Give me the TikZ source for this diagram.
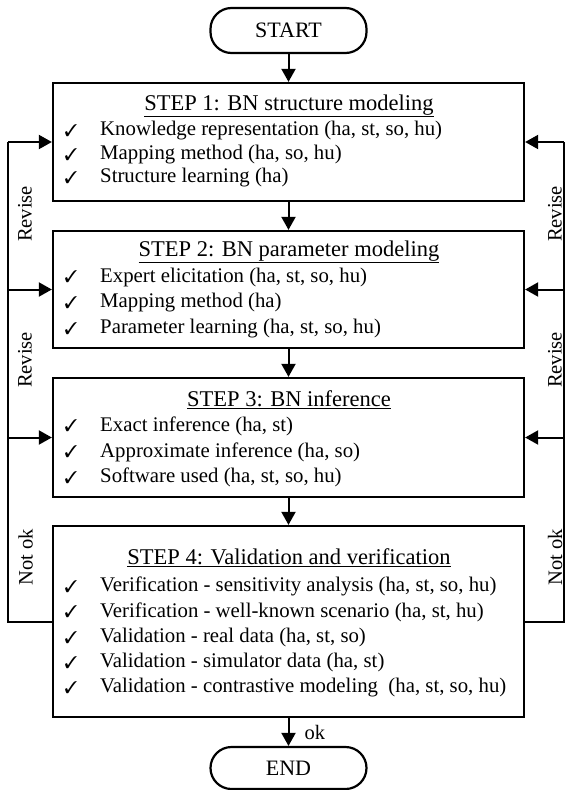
\documentclass[tikz,border=0pt]{standalone}
\usepackage{fontspec}
\setmainfont{Liberation Serif}
\usepackage{pifont}
\usetikzlibrary{arrows.meta}
\tikzset{
  stepbox/.style={draw, line width=2.3pt, inner sep=0pt, minimum width=471pt},
  pill/.style={draw, line width=2.2pt, inner sep=0pt, minimum width=156pt, rounded corners=21pt, font=\fontsize{22}{26}\selectfont},
  ttl/.style={anchor=center, inner sep=0pt, font=\fontsize{22.5}{27}\selectfont},
  itm/.style={anchor=west, inner sep=0pt, font=\fontsize{20.8}{24}\selectfont},
  chk/.style={anchor=center, inner sep=0pt, font=\fontsize{17}{20}\selectfont},
  lbl/.style={inner sep=0pt, rotate=90, font=\fontsize{20.5}{24}\selectfont},
  conn/.style={line width=2pt},
  arr/.style={line width=2pt, -{Triangle[length=13pt,width=14pt]}}
}
\begin{document}
\begin{tikzpicture}[x=1pt,y=-1pt]
\useasboundingbox (0,0) rectangle (565,790);
% terminals
\node[pill, minimum height=45pt] (start) at (288.5,30.5) {START};
\node[pill, minimum height=42pt] (end) at (288.5,768) {END};
% step boxes
\node[stepbox, minimum height=118pt] (b1) at (288.5,142) {};
\node[stepbox, minimum height=117pt] (b2) at (288.5,289.5) {};
\node[stepbox, minimum height=119pt] (b3) at (288.5,437.5) {};
\node[stepbox, minimum height=191pt] (b4) at (288.5,621.5) {};
% step 1
\node[ttl] (t1) at (289,106) {\underline{STEP 1: BN structure modeling}};
\node[chk] (c11) at (71,131) {\ding{51}};
\node[itm] (i11) at (100,131) {Knowledge representation (ha, st, so, hu)};
\node[chk] (c12) at (71,154.5) {\ding{51}};
\node[itm] (i12) at (100,154.5) {Mapping method (ha, so, hu)};
\node[chk] (c13) at (71,178) {\ding{51}};
\node[itm] (i13) at (100,178) {Structure learning (ha)};
% step 2
\node[ttl] (t2) at (289,252) {\underline{STEP 2: BN parameter modeling}};
\node[chk] (c21) at (71,277) {\ding{51}};
\node[itm] (i21) at (100,277) {Expert elicitation (ha, st, so, hu)};
\node[chk] (c22) at (71,303) {\ding{51}};
\node[itm] (i22) at (100,303) {Mapping method (ha)};
\node[chk] (c23) at (71,329) {\ding{51}};
\node[itm] (i23) at (100,329) {Parameter learning (ha, st, so, hu)};
% step 3
\node[ttl] (t3) at (289,400) {\underline{STEP 3: BN inference}};
\node[chk] (c31) at (71,426) {\ding{51}};
\node[itm] (i31) at (100,426) {Exact inference (ha, st)};
\node[chk] (c32) at (71,452) {\ding{51}};
\node[itm] (i32) at (100,452) {Approximate inference (ha, so)};
\node[chk] (c33) at (71,477.5) {\ding{51}};
\node[itm] (i33) at (100,477.5) {Software used (ha, st, so, hu)};
% step 4
\node[ttl] (t4) at (289,558) {\underline{STEP 4: Validation and verification}};
\node[chk] (c41) at (71,586.5) {\ding{51}};
\node[itm] (i41) at (100,586.5) {Verification - sensitivity analysis (ha, st, so, hu)};
\node[chk] (c42) at (71,612) {\ding{51}};
\node[itm] (i42) at (100,612) {Verification - well-known scenario (ha, st, hu)};
\node[chk] (c43) at (71,637.5) {\ding{51}};
\node[itm] (i43) at (100,637.5) {Validation - real data (ha, st, so)};
\node[chk] (c44) at (71,662.5) {\ding{51}};
\node[itm] (i44) at (100,662.5) {Validation - simulator data (ha, st)};
\node[chk] (c45) at (71,688) {\ding{51}};
\node[itm] (i45) at (100,688) {Validation - contrastive modeling\ \ (ha, st, so, hu)};
% main flow
\draw[arr] (start) -- (b1);
\draw[arr] (b1) -- (b2);
\draw[arr] (b2) -- (b3);
\draw[arr] (b3) -- (b4);
\draw[arr] (b4) -- node[right=15pt, inner sep=0pt, font=\fontsize{20.5}{24}\selectfont] (ok) {ok} (end);
% feedback loops
\coordinate (L4) at (8,621.5);
\coordinate (L1) at (8,142);
\coordinate (L2) at (8,289.5);
\coordinate (L3) at (8,437.5);
\coordinate (R4) at (564,621.5);
\coordinate (R1) at (564,142);
\coordinate (R2) at (564,289.5);
\coordinate (R3) at (564,437.5);
\draw[conn] (b4.west) -- (L4) -- (L1);
\draw[conn] (b4.east) -- (R4) -- (R1);
\draw[arr] (L1) -- (b1.west);
\draw[arr] (L2) -- (b2.west);
\draw[arr] (L3) -- (b3.west);
\draw[arr] (R1) -- (b1.east);
\draw[arr] (R2) -- (b2.east);
\draw[arr] (R3) -- (b3.east);
% labels
\node[lbl] (rl1) at (25,214) {Revise};
\node[lbl] (rl2) at (25,360) {Revise};
\node[lbl] (nl) at (25.5,557) {Not ok};
\node[lbl] (rr1) at (555,214) {Revise};
\node[lbl] (rr2) at (555,360) {Revise};
\node[lbl] (nr) at (555,557) {Not ok};
\end{tikzpicture}
\end{document}
